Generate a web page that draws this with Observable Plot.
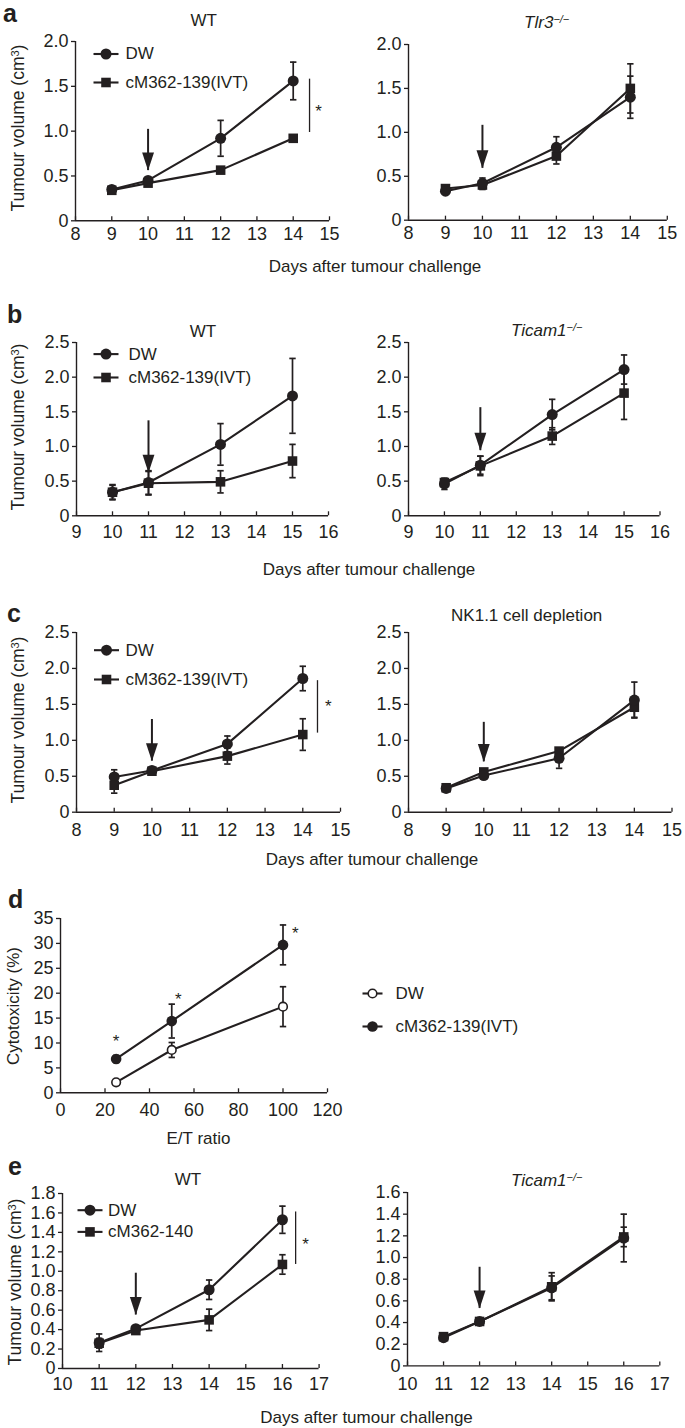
<!DOCTYPE html>
<html>
<head>
<meta charset="utf-8">
<script src="https://cdn.jsdelivr.net/npm/d3@7"></script>
<script src="https://cdn.jsdelivr.net/npm/@observablehq/plot@0.6"></script>
<style>
  html, body { margin: 0; padding: 0; background: white; }
  #root { position: relative; width: 685px; height: 1428px; background: white; overflow: hidden;
          font-family: 'Liberation Sans', Arial, Helvetica, sans-serif; color: #231f20; }
  .t { position: absolute; white-space: nowrap; line-height: 1; }
  .t sup { font-size: 11px; vertical-align: 0.5em; line-height: 0; }
</style>
</head>
<body>
<div id="root"></div>
<script>
// ---------------- DATA ----------------
// Panel a (days after tumour challenge)
const aDays = [9, 10, 12, 14];
const aWT_DW = [0.35, 0.45, 0.92, 1.56];
const aWT_DW_sem = [0.02, 0.03, 0.20, 0.21];
const aWT_IVT = [0.34, 0.42, 0.565, 0.92];
const aWT_IVT_sem = [0.02, 0.02, 0.02, 0.02];
const aTlr3_DW = [0.33, 0.42, 0.83, 1.40];
const aTlr3_DW_sem = [0.02, 0.06, 0.12, 0.24];
const aTlr3_IVT = [0.36, 0.40, 0.73, 1.50];
const aTlr3_IVT_sem = [0.02, 0.05, 0.09, 0.28];

// Panel b
const bDays = [10, 11, 13, 15];
const bWT_DW = [0.34, 0.48, 1.03, 1.73];
const bWT_DW_sem = [0.10, 0.17, 0.30, 0.54];
const bWT_IVT = [0.34, 0.47, 0.49, 0.79];
const bWT_IVT_sem = [0.11, 0.17, 0.16, 0.24];
const bTicam_DW = [0.46, 0.73, 1.46, 2.11];
const bTicam_DW_sem = [0.08, 0.13, 0.22, 0.21];
const bTicam_IVT = [0.48, 0.72, 1.15, 1.77];
const bTicam_IVT_sem = [0.06, 0.14, 0.12, 0.38];

// Panel c
const cDays = [9, 10, 12, 14];
const cWT_DW = [0.49, 0.58, 0.95, 1.86];
const cWT_DW_sem = [0.10, 0.04, 0.11, 0.17];
const cWT_IVT = [0.375, 0.57, 0.78, 1.08];
const cWT_IVT_sem = [0.11, 0.03, 0.11, 0.22];
const cNK_DW = [0.33, 0.51, 0.75, 1.56];
const cNK_DW_sem = [0.02, 0.03, 0.14, 0.25];
const cNK_IVT = [0.34, 0.56, 0.85, 1.46];
const cNK_IVT_sem = [0.02, 0.03, 0.04, 0.14];

// Panel d (E/T ratio vs cytotoxicity %)
const dRatio = [25, 50, 100];
const dDW = [2.1, 8.6, 17.3];
const dDW_sem = [0.4, 1.5, 4.0];
const dIVT = [6.8, 14.4, 29.7];
const dIVT_sem = [0.7, 3.4, 4.0];
const dStarX = [25, 53, 105.5];
const dStarY = [11.1, 19.5, 32.8];

// Panel e
const eDays = [11, 12, 14, 16];
const eWT_DW = [0.265, 0.41, 0.81, 1.53];
const eWT_DW_sem = [0.09, 0.03, 0.10, 0.14];
const eWT_140 = [0.26, 0.39, 0.50, 1.07];
const eWT_140_sem = [0.05, 0.03, 0.11, 0.10];
const eTicam_DW = [0.26, 0.41, 0.72, 1.18];
const eTicam_DW_sem = [0.02, 0.03, 0.11, 0.22];
const eTicam_140 = [0.27, 0.41, 0.73, 1.19];
const eTicam_140_sem = [0.02, 0.02, 0.13, 0.09];

// Injection arrows (day, arrow start value, arrow tip value)
const arrowAWT = {day: 10, from: 1.02, to: 0.56};
const arrowATlr3 = {day: 10, from: 1.08, to: 0.59};
const arrowBWT = {day: 11, from: 1.37, to: 0.62};
const arrowBTicam = {day: 11, from: 1.56, to: 0.94};
const arrowCWT = {day: 10, from: 1.29, to: 0.71};
const arrowCNK = {day: 10, from: 1.25, to: 0.70};
const arrowEWT = {day: 12, from: 0.98, to: 0.55};
const arrowETicam = {day: 12, from: 0.91, to: 0.53};

// Significance brackets
const sigA = {x: 14.45, lo: 0.985, hi: 1.58, sx: 14.7, sy: 1.26};
const sigC = {x: 14.39, lo: 1.10, hi: 1.83, sx: 14.68, sy: 1.53};
const sigE = {x: 16.36, lo: 1.07, hi: 1.61, sx: 16.63, sy: 1.32};

// Ticks
const aXTicks = [8, 9, 10, 11, 12, 13, 14, 15];
const aYTicks = [0, 0.5, 1.0, 1.5, 2.0];
const bXTicks = [9, 10, 11, 12, 13, 14, 15, 16];
const bYTicks = [0, 0.5, 1.0, 1.5, 2.0, 2.5];
const cXTicks = [8, 9, 10, 11, 12, 13, 14, 15];
const cYTicks = [0, 0.5, 1.0, 1.5, 2.0, 2.5];
const dXTicks = [0, 20, 40, 60, 80, 100, 120];
const dYTicks = [0, 5, 10, 15, 20, 25, 30, 35];
const eXTicks = [10, 11, 12, 13, 14, 15, 16, 17];
const eYTicksWT = [0, 0.2, 0.4, 0.6, 0.8, 1.0, 1.2, 1.4, 1.6, 1.8];
const eYTicksTicam = [0, 0.2, 0.4, 0.6, 0.8, 1.0, 1.2, 1.4, 1.6];

const legendIVT139 = ["DW", "cM362-139(IVT)"];
const legend140 = ["DW", "cM362-140"];

// ---------------- DRAWING ----------------
const INK = "#231f20";
const FONT = "'Liberation Sans', Arial, Helvetica, sans-serif";
const TICK_FS = 18;
const root = document.getElementById("root");

const hline = {draw(ctx, size) { const r = Math.sqrt(size / Math.PI); ctx.moveTo(-r, 0); ctx.lineTo(r, 0); }};
const headDown = {draw(ctx, size) {
  const r = Math.sqrt(size / Math.PI);
  ctx.moveTo(0, 0); ctx.lineTo(-0.66 * r, -2 * r); ctx.lineTo(0.66 * r, -2 * r); ctx.closePath();
}};

const rows = (xs, vs, es) => xs.map((x, i) => ({x, v: vs[i], e: es[i]}));

const SYM = {
  circle: {symbol: "circle", r: 5.5, fill: INK, stroke: "none", strokeWidth: 0},
  square: {symbol: "square", r: 5.4, fill: INK, stroke: "none", strokeWidth: 0},
  open: {symbol: "circle", r: 4.3, fill: "white", stroke: INK, strokeWidth: 1.6},
  dot: {symbol: "circle", r: 5.3, fill: INK, stroke: "none", strokeWidth: 0}
};

function seriesMarks(data) {
  return [
    Plot.ruleX(data, {x: "x", y1: d => d.v - d.e, y2: d => d.v + d.e, stroke: INK, strokeWidth: 1.7}),
    Plot.dot(data, {x: "x", y: d => d.v + d.e, symbol: hline, r: 3.2, fill: "none", stroke: INK, strokeWidth: 1.7}),
    Plot.dot(data, {x: "x", y: d => d.v - d.e, symbol: hline, r: 3.2, fill: "none", stroke: INK, strokeWidth: 1.7}),
    Plot.line(data, {x: "x", y: "v", stroke: INK, strokeWidth: 2.1})
  ];
}
function markerMarks(data, sym) {
  return [Plot.dot(data, {x: "x", y: "v", ...SYM[sym]})];
}

function legendMarks(labels, syms, {anchor, lineDx, textDx, dys, lineR}) {
  const marks = [];
  labels.forEach((lab, i) => {
    const base = {frameAnchor: anchor, dx: lineDx, dy: dys[i]};
    marks.push(Plot.dot([lab], {...base, symbol: hline, r: lineR, fill: "none", stroke: INK, strokeWidth: 2.1}));
    marks.push(Plot.dot([lab], {...base, ...SYM[syms[i]]}));
    marks.push(Plot.text([lab], {frameAnchor: anchor, dx: textDx, dy: dys[i], text: d => d,
      textAnchor: "start", lineAnchor: "middle", fontSize: 17, fill: INK}));
  });
  return marks;
}

function arrowMarks(a) {
  return [
    Plot.ruleX([a], {x: "day", y1: "from", y2: "to", stroke: INK, strokeWidth: 2}),
    Plot.dot([a], {x: "day", y: "to", symbol: headDown, r: 9, fill: INK, stroke: "none"})
  ];
}
function sigMarks(s) {
  return [
    Plot.ruleX([s], {x: "x", y1: "lo", y2: "hi", stroke: INK, strokeWidth: 1.3}),
    Plot.text([s], {x: "sx", y: "sy", text: () => "*", fontSize: 17, dy: 4, fill: INK})
  ];
}

const volFmt = d => d === 0 ? "0" : d.toFixed(1);

function panel({frame, xDomain, yDomain, xTicks, yTicks, yFmt, labelPad, marks, mr = 60}) {
  const [x0, x1, y0, y1] = frame;
  const ML = 60, MT = 30, MB = 40, MR = mr;
  const fw = x1 - x0, fh = y1 - y0;
  const svg = Plot.plot({
    width: fw + ML + MR, height: fh + MT + MB,
    marginLeft: ML, marginRight: MR, marginTop: MT, marginBottom: MB,
    style: {background: "transparent", fontFamily: FONT, fontSize: TICK_FS + "px", color: INK, overflow: "visible"},
    x: {domain: xDomain}, y: {domain: yDomain},
    marks: [
      Plot.axisY({ticks: yTicks, tickSize: 4, tickPadding: 3, tickFormat: yFmt, label: null, stroke: INK, strokeWidth: 1.3, fontSize: TICK_FS}),
      Plot.axisX({ticks: xTicks, tickSize: 0, tickPadding: labelPad, tickFormat: d => String(d), label: null, fontSize: TICK_FS}),
      Plot.tickX(xTicks, {x: d => d, insetTop: fh - 4, stroke: INK, strokeWidth: 1.3}),
      Plot.ruleX([xDomain[0]], {stroke: INK, strokeWidth: 1.4}),
      Plot.ruleY([yDomain[0]], {stroke: INK, strokeWidth: 1.4}),
      ...marks
    ]
  });
  svg.style.position = "absolute";
  svg.style.left = (x0 - ML) + "px";
  svg.style.top = (y0 - MT) + "px";
  svg.style.maxWidth = "none";
  root.appendChild(svg);
}

function twoSeries(days, dw, dwSem, tr, trSem, trSym, circleOnTop) {
  const A = rows(days, dw, dwSem), B = rows(days, tr, trSem);
  const m = [...seriesMarks(A), ...seriesMarks(B)];
  if (circleOnTop) m.push(...markerMarks(B, trSym), ...markerMarks(A, "circle"));
  else m.push(...markerMarks(A, "circle"), ...markerMarks(B, trSym));
  return m;
}

// Panel a
panel({frame: [75, 329, 40.7, 220], xDomain: [8, 15], yDomain: [0, 2], xTicks: aXTicks, yTicks: aYTicks, yFmt: volFmt, labelPad: 6,
  marks: [...arrowMarks(arrowAWT), ...sigMarks(sigA), ...twoSeries(aDays, aWT_DW, aWT_DW_sem, aWT_IVT, aWT_IVT_sem, "square", false),
    ...legendMarks(legendIVT139, ["circle", "square"], {anchor: "top-left", lineDx: 30.5, textDx: 50, dys: [12.5, 41], lineR: 12.5})]});
panel({frame: [407.5, 666.3, 44.3, 220], xDomain: [8, 15], yDomain: [0, 2], xTicks: aXTicks, yTicks: aYTicks, yFmt: volFmt, labelPad: 6,
  marks: [...arrowMarks(arrowATlr3), ...twoSeries(aDays, aTlr3_DW, aTlr3_DW_sem, aTlr3_IVT, aTlr3_IVT_sem, "square", true)]});

// Panel b
panel({frame: [76, 328, 341.7, 515], xDomain: [9, 16], yDomain: [0, 2.5], xTicks: bXTicks, yTicks: bYTicks, yFmt: volFmt, labelPad: 9,
  marks: [...arrowMarks(arrowBWT), ...twoSeries(bDays, bWT_DW, bWT_DW_sem, bWT_IVT, bWT_IVT_sem, "square", false),
    ...legendMarks(legendIVT139, ["circle", "square"], {anchor: "top-left", lineDx: 29.5, textDx: 52, dys: [11.6, 35], lineR: 12.5})]});
panel({frame: [408, 659.5, 341.7, 515], xDomain: [9, 16], yDomain: [0, 2.5], xTicks: bXTicks, yTicks: bYTicks, yFmt: volFmt, labelPad: 9,
  marks: [...arrowMarks(arrowBTicam), ...twoSeries(bDays, bTicam_DW, bTicam_DW_sem, bTicam_IVT, bTicam_IVT_sem, "square", true)]});

// Panel c
panel({frame: [76, 340, 632.3, 812], xDomain: [8, 15], yDomain: [0, 2.5], xTicks: cXTicks, yTicks: cYTicks, yFmt: volFmt, labelPad: 11,
  marks: [...arrowMarks(arrowCWT), ...sigMarks(sigC), ...twoSeries(cDays, cWT_DW, cWT_DW_sem, cWT_IVT, cWT_IVT_sem, "square", false),
    ...legendMarks(legendIVT139, ["circle", "square"], {anchor: "top-left", lineDx: 30, textDx: 49, dys: [17.7, 47], lineR: 12.5})]});
panel({frame: [407.5, 671, 632.3, 812], xDomain: [8, 15], yDomain: [0, 2.5], xTicks: cXTicks, yTicks: cYTicks, yFmt: volFmt, labelPad: 11,
  marks: [...arrowMarks(arrowCNK), ...twoSeries(cDays, cNK_DW, cNK_DW_sem, cNK_IVT, cNK_IVT_sem, "square", true)]});

// Panel d
{
  const A = rows(dRatio, dDW, dDW_sem), B = rows(dRatio, dIVT, dIVT_sem);
  const stars = dStarX.map((x, i) => ({x, y: dStarY[i]}));
  panel({frame: [60, 327, 918, 1092.3], xDomain: [0, 120], yDomain: [0, 35], xTicks: dXTicks, yTicks: dYTicks, yFmt: d => String(d), labelPad: 10, mr: 300,
    marks: [...seriesMarks(A), ...seriesMarks(B), ...markerMarks(A, "open"), ...markerMarks(B, "dot"),
      Plot.text(stars, {x: "x", y: "y", text: () => "*", fontSize: 17, dy: 4, fill: INK}),
      ...legendMarks(["DW", "cM362-139(IVT)"], ["open", "dot"], {anchor: "top-right", lineDx: 45, textDx: 68, dys: [75, 108], lineR: 10})]});
}

// Panel e
panel({frame: [61.7, 318.3, 1193.3, 1368.3], xDomain: [10, 17], yDomain: [0, 1.8], xTicks: eXTicks, yTicks: eYTicksWT, yFmt: volFmt, labelPad: 9,
  marks: [...arrowMarks(arrowEWT), ...sigMarks(sigE), ...twoSeries(eDays, eWT_DW, eWT_DW_sem, eWT_140, eWT_140_sem, "square", false),
    ...legendMarks(legend140, ["circle", "square"], {anchor: "top-left", lineDx: 27.5, textDx: 45.6, dys: [16.7, 38.4], lineR: 12.5})]});
panel({frame: [407, 659.3, 1192.3, 1365.7], xDomain: [10, 17], yDomain: [0, 1.6], xTicks: eXTicks, yTicks: eYTicksTicam, yFmt: volFmt, labelPad: 11,
  marks: [...arrowMarks(arrowETicam), ...twoSeries(eDays, eTicam_DW, eTicam_DW_sem, eTicam_140, eTicam_140_sem, "square", true)]});

// ---------------- TEXT ----------------
function txt(html, x, base, {fs = 17, anchor = "middle", bold = false, lh = 1} = {}) {
  const el = document.createElement("div");
  el.className = "t";
  el.innerHTML = html;
  el.style.fontSize = fs + "px";
  el.style.lineHeight = String(lh);
  if (bold) el.style.fontWeight = "bold";
  const baseFromTop = ((lh - 1.117) / 2 + 0.905) * fs;
  el.style.top = (base - baseFromTop) + "px";
  el.style.left = x + "px";
  if (anchor === "middle") el.style.transform = "translateX(-50%)";
  root.appendChild(el);
}
function ytitle(html, cx, cy, fs = 17) {
  const el = document.createElement("div");
  el.className = "t";
  el.innerHTML = html;
  el.style.fontSize = fs + "px";
  el.style.left = cx + "px";
  el.style.top = cy + "px";
  el.style.transform = "translate(-50%, -50%) rotate(-90deg)";
  root.appendChild(el);
}

// panel letters
const letterOpts = {fs: 25, anchor: "start", bold: true, lh: 1};
txt("a", 3, 22, letterOpts);
txt("b", 7, 323, letterOpts);
txt("c", 7, 622, letterOpts);
txt("d", 8, 908, letterOpts);
txt("e", 8, 1175, letterOpts);

// subplot titles
txt("WT", 203.7, 26);
txt("<i>Tlr3</i><sup><i>−/−</i></sup>", 546.7, 28);
txt("WT", 203, 337);
txt("<i>Ticam1</i><sup><i>−/−</i></sup>", 546.7, 336);
txt("NK1.1 cell depletion", 526.7, 621);
txt("WT", 188, 1185);
txt("<i>Ticam1</i><sup><i>−/−</i></sup>", 546.7, 1186);

// shared x titles
txt("Days after tumour challenge", 375, 272);
txt("Days after tumour challenge", 369, 575.5);
txt("Days after tumour challenge", 372, 865.5);
txt("Days after tumour challenge", 366.5, 1423);
txt("E/T ratio", 198.5, 1144);

// y titles
const volTitle = "Tumour volume (cm<sup>3</sup>)";
ytitle(volTitle, 19, 128, 17.5);
ytitle(volTitle, 19, 427, 17.5);
ytitle(volTitle, 19, 720, 17.5);
ytitle(volTitle, 15.5, 1282, 17.5);
ytitle("Cytotoxicity (%)", 13, 1006, 17);
</script>
</body>
</html>
